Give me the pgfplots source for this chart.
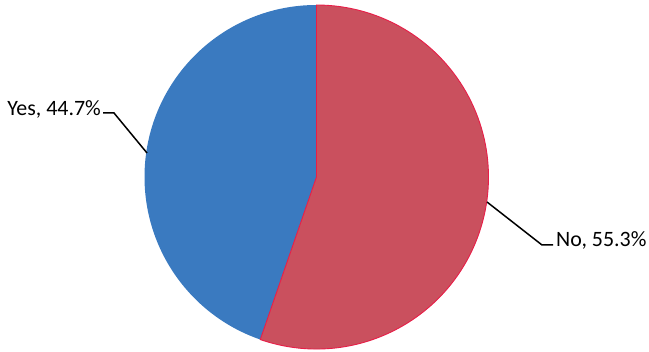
\documentclass[border=0pt]{standalone}
\usepackage{pgfplots}
\pgfplotsset{compat=1.18}
\usepackage{pgfplotstable}
\usepackage{fontspec}
\setmainfont{Carlito}

\definecolor{yesblue}{RGB}{58,122,192}
\definecolor{nored}{RGB}{202,80,94}
\definecolor{edgered}{RGB}{232,30,72}

% share of answers, in percent
\pgfplotstableread{
label value
Yes 44.7
No 55.3
}\piedata

\begin{document}
\begin{tikzpicture}
\pgfplotstablegetelem{0}{value}\of\piedata
\pgfmathsetmacro\yesval{\pgfplotsretval}
\pgfplotstablegetelem{1}{value}\of\piedata
\pgfmathsetmacro\noval{\pgfplotsretval}
\pgfmathsetmacro\yesend{90+3.6*\yesval}
\pgfmathsetmacro\noend{\yesend+3.6*\noval}
\begin{axis}[
  width=649bp, height=352bp,
  scale only axis,
  xmin=0, xmax=649, ymin=0, ymax=352,
  hide axis,
  clip=false,
]
% slices, centre (316.5,175), radius 172bp
\fill[yesblue] (axis cs:316.5,175) -- ++(90:172bp)
  arc[start angle=90, end angle=\yesend, radius=172bp] -- cycle;
\filldraw[fill=nored, draw=edgered, line width=0.9bp] (axis cs:316.5,175) -- ++(\yesend:172bp)
  arc[start angle=\yesend, end angle=\noend, radius=172bp] -- cycle;
% leader lines
\draw[black, line width=1.5bp] (axis cs:103,239) -- (axis cs:114,239) -- (axis cs:147,199);
\draw[black, line width=1.5bp] (axis cs:487,150) -- (axis cs:542,107) -- (axis cs:553,107);
% labels
\node[anchor=base east, inner sep=0pt, font=\fontsize{22}{26}\selectfont]
  at (axis cs:101,236) {\pgfplotstablegetelem{0}{label}\of\piedata\pgfplotsretval, \yesval\%};
\node[anchor=base west, inner sep=0pt, font=\fontsize{22}{26}\selectfont]
  at (axis cs:556,105) {\pgfplotstablegetelem{1}{label}\of\piedata\pgfplotsretval, \noval\%};
\end{axis}
\pgfresetboundingbox
\path[use as bounding box] (current axis.south west) rectangle (current axis.north east);
\end{tikzpicture}
\end{document}
